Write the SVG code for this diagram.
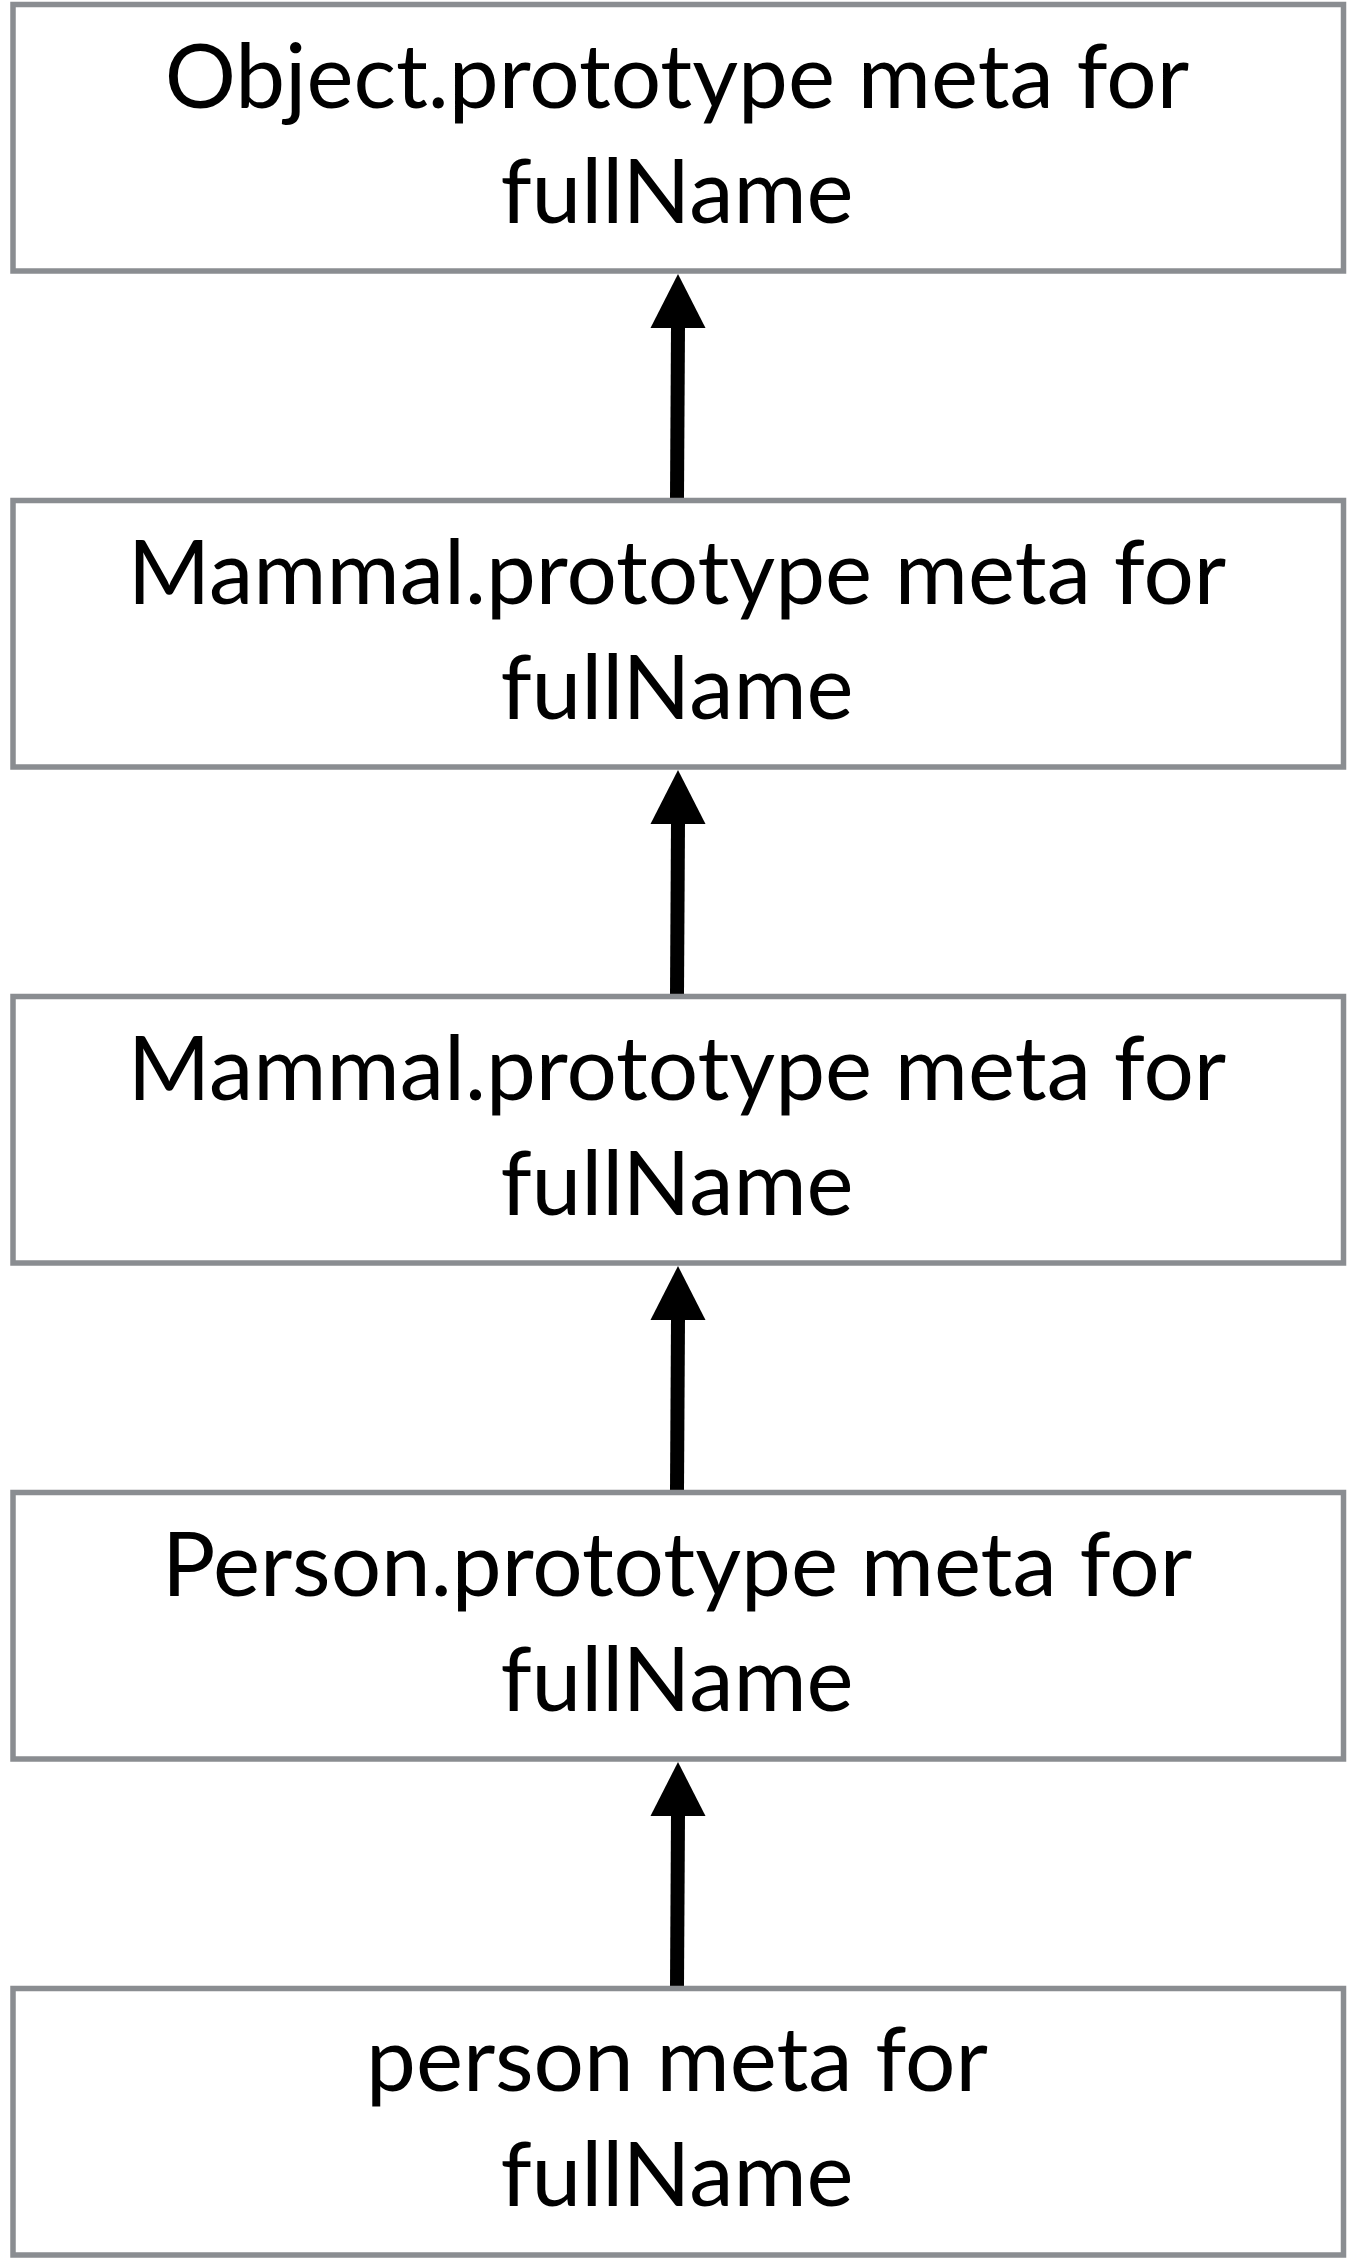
<svg xmlns="http://www.w3.org/2000/svg" width="1347" height="2259" viewBox="0 0 1347 2259">
<style>
.box{fill:#fff;stroke:#8a8d91;stroke-width:5.5}
.t{font-family:Lato,"Liberation Sans",sans-serif;font-size:89px;fill:#000;text-anchor:middle}
.shaft{stroke:#000;stroke-width:14;fill:none}
.head{fill:#000}
</style>
<rect width="1347" height="2259" fill="#fff"/>
<g id="connectors">
<line class="shaft" x1="677" y1="498" x2="678" y2="326"/>
<polygon class="head" points="678,274 705.5,328 650.5,328"/>
<line class="shaft" x1="677" y1="994" x2="678" y2="822"/>
<polygon class="head" points="678,770 705.5,824 650.5,824"/>
<line class="shaft" x1="677" y1="1490" x2="678" y2="1318"/>
<polygon class="head" points="678,1266 705.5,1320 650.5,1320"/>
<line class="shaft" x1="677" y1="1986" x2="678" y2="1814"/>
<polygon class="head" points="678,1762 705.5,1816 650.5,1816"/>
</g>
<g id="node1">
<rect class="box" x="13" y="4.5" width="1330.5" height="266.5"/>
<text class="t" x="677" y="108">Object.prototype meta for</text>
<text class="t" x="677" y="223">fullName</text>
</g>
<g id="node2">
<rect class="box" x="13" y="500.5" width="1330.5" height="266.5"/>
<text class="t" x="677" y="604">Mammal.prototype meta for</text>
<text class="t" x="677" y="719">fullName</text>
</g>
<g id="node3">
<rect class="box" x="13" y="996.5" width="1330.5" height="266.5"/>
<text class="t" x="677" y="1100">Mammal.prototype meta for</text>
<text class="t" x="677" y="1215">fullName</text>
</g>
<g id="node4">
<rect class="box" x="13" y="1492.5" width="1330.5" height="266.5"/>
<text class="t" x="677" y="1596">Person.prototype meta for</text>
<text class="t" x="677" y="1711">fullName</text>
</g>
<g id="node5">
<rect class="box" x="13" y="1988.5" width="1330.5" height="266.5"/>
<text class="t" x="677" y="2091">person meta for</text>
<text class="t" x="677" y="2206">fullName</text>
</g>
</svg>
